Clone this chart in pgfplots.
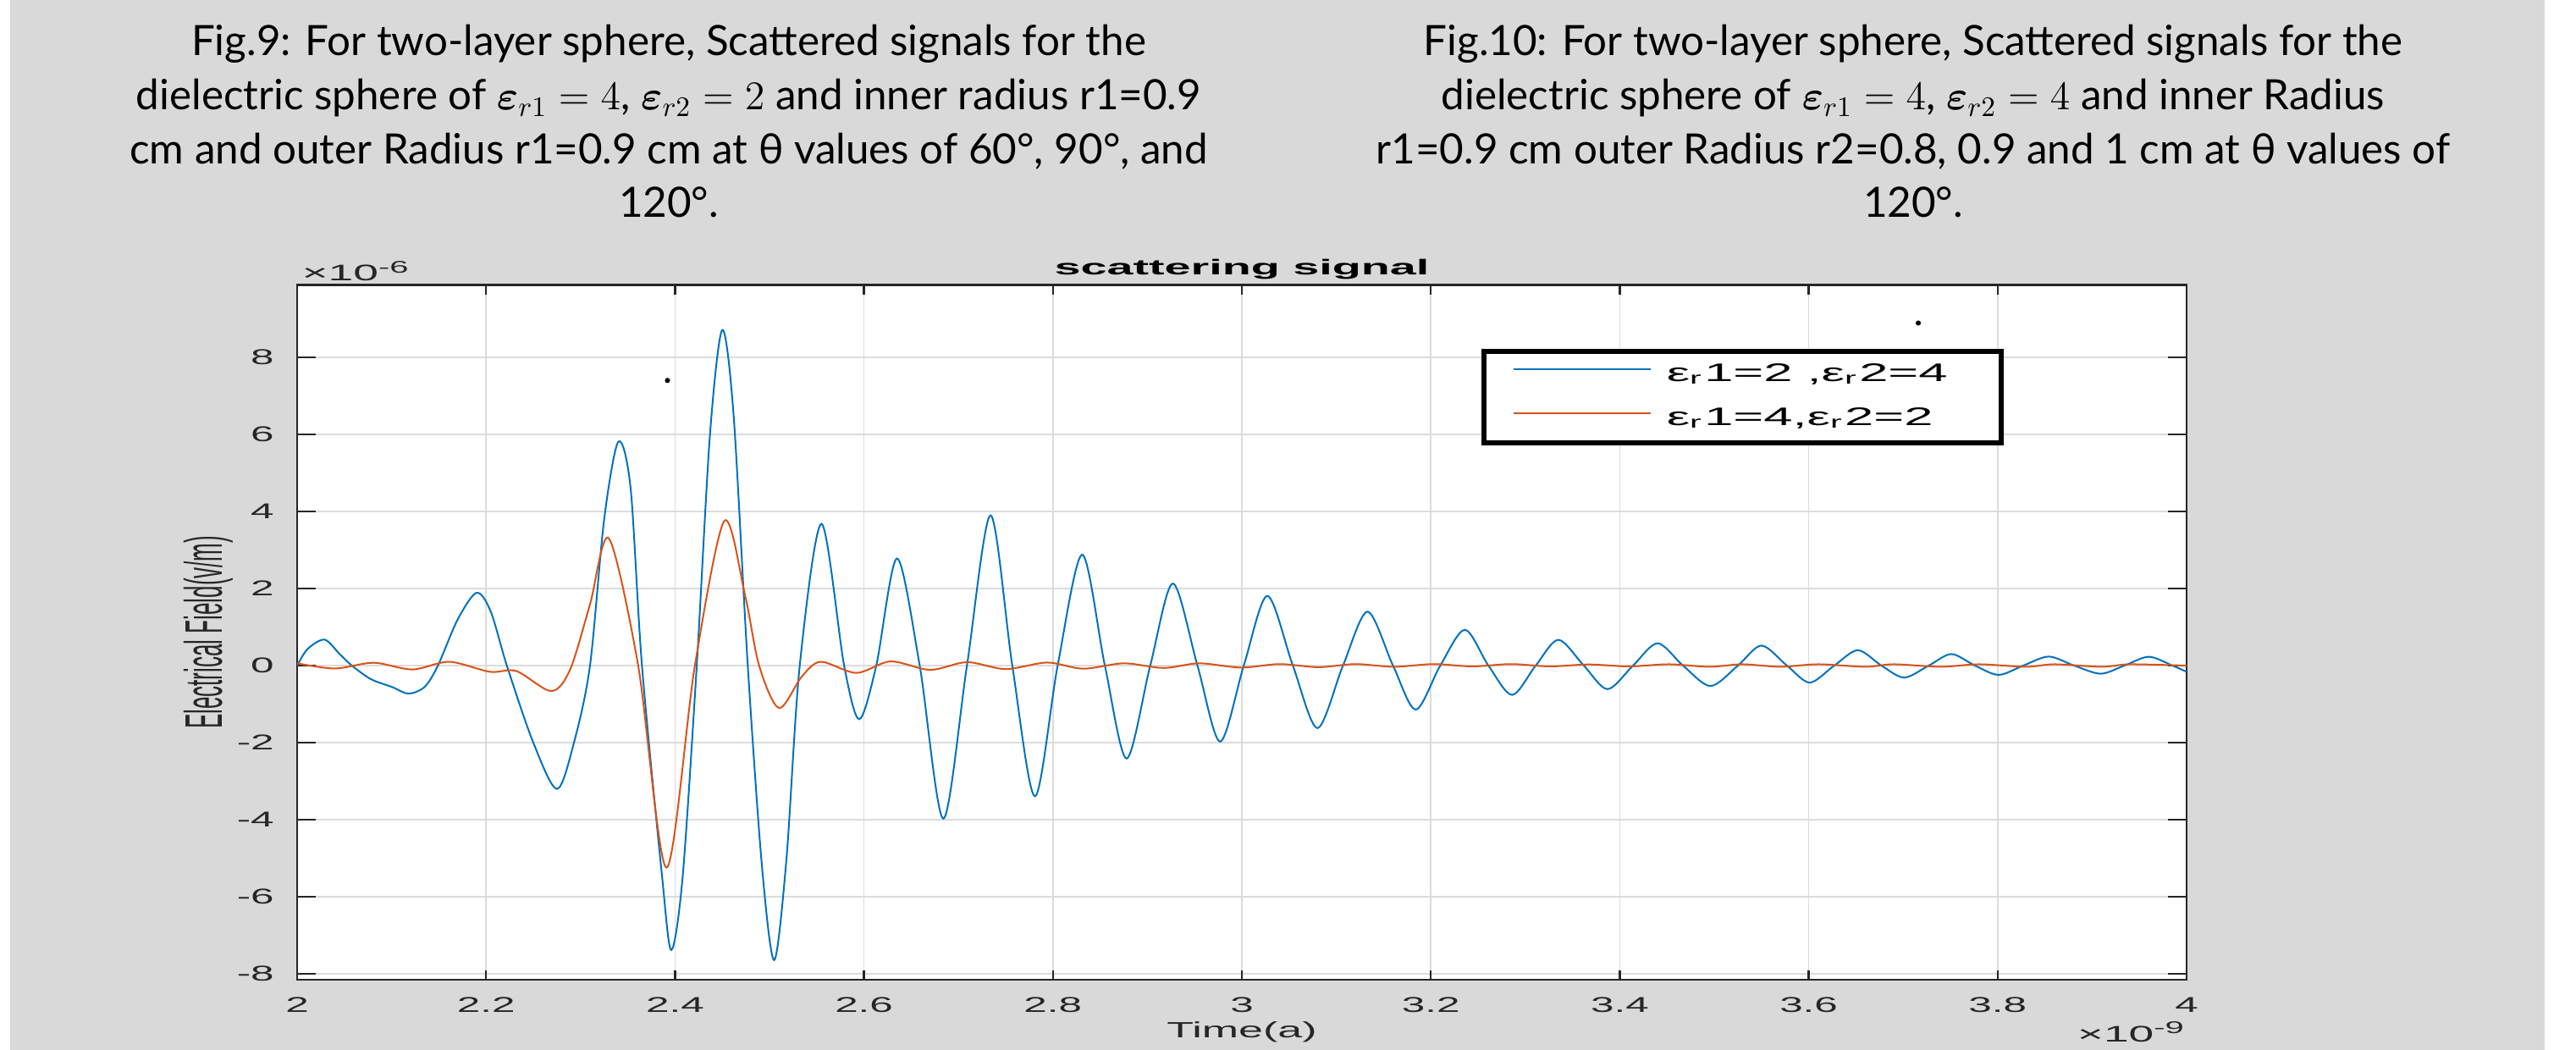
\documentclass[border=0pt]{standalone}
\usepackage{amsmath}
\usepackage{bm}
\usepackage{graphicx}
\usepackage{fontspec}
\setmainfont{Liberation Sans}
\newfontfamily\capfont{Lato}
\usepackage{pgfplots}
\pgfplotsset{compat=1.18}

\definecolor{figbg}{RGB}{217,217,217}
\definecolor{axcol}{RGB}{38,38,38}
\definecolor{gridcol}{RGB}{220,220,220}
\definecolor{mblue}{RGB}{0,114,189}
\definecolor{mred}{RGB}{217,83,25}

\newcommand\capsize{\capfont\fontsize{14.8}{17}\selectfont}
\newcommand\ticksize{\fontsize{7.6}{8}\selectfont}

\begin{document}
\begin{tikzpicture}
\fill[white] (0,0) rectangle (912.9pt,372pt);
\fill[figbg] (3.6pt,0) rectangle (901.8pt,372pt);

% captions above the figure
\node[anchor=base,inner sep=0pt,font=\capsize] at (237pt,352.2pt) {Fig.9: For two-layer sphere, Scattered signals for the};
\node[anchor=base,inner sep=0pt,font=\capsize] at (237pt,333.0pt) {dielectric sphere of $\bm{\varepsilon}_{r1} = 4$, $\bm{\varepsilon}_{r2} = 2$ and inner radius r1=0.9};
\node[anchor=base,inner sep=0pt,font=\capsize] at (237pt,313.8pt) {cm and outer Radius r1=0.9 cm at θ values of 60°, 90°, and};
\node[anchor=base,inner sep=0pt,font=\capsize] at (237pt,294.9pt) {120°.};
\node[anchor=base,inner sep=0pt,font=\capsize] at (678pt,352.2pt) {Fig.10: For two-layer sphere, Scattered signals for the};
\node[anchor=base,inner sep=0pt,font=\capsize] at (678pt,333.0pt) {dielectric sphere of $\bm{\varepsilon}_{r1} = 4$, $\bm{\varepsilon}_{r2} = 4$ and inner Radius};
\node[anchor=base,inner sep=0pt,font=\capsize] at (678pt,313.8pt) {r1=0.9 cm outer Radius r2=0.8, 0.9 and 1 cm at θ values of};
\node[anchor=base,inner sep=0pt,font=\capsize] at (678pt,294.9pt) {120°.};

\begin{axis}[
  at={(105.3pt,24.9pt)}, anchor=south west,
  scale only axis, width=669.6pt, height=246.1pt,
  xmin=2, xmax=4, ymin=-8.15, ymax=9.875,
  clip mode=individual,
  axis background/.style={fill=white},
  xtick={2,2.2,2.4,2.6,2.8,3,3.2,3.4,3.6,3.8,4},
  xticklabels={2,2.2,2.4,2.6,2.8,3,3.2,3.4,3.6,3.8,4},
  ytick={-8,-6,-4,-2,0,2,4,6,8},
  yticklabels={-8,-6,-4,-2,0,2,4,6,8},
  tick align=inside, tick pos=both,
  major tick length=6.6pt,
  xtick style={/pgfplots/major tick length=3.3pt},
  tick style={axcol, line width=0.7pt},
  axis line style={axcol, line width=0.7pt},
  xmajorgrids, ymajorgrids,
  grid style={gridcol, line width=0.45pt},
  xticklabel style={font=\ticksize, text=axcol, inner sep=0pt, anchor=north, yshift=-6pt, xscale=1.95},
  yticklabel style={font=\ticksize, text=axcol, inner sep=0pt, anchor=east, xshift=-7.8pt, xscale=1.95},
  xlabel={\scalebox{2.0}[1]{Time(a)}},
  xlabel style={at={(axis description cs:0.5,-0.0829)}, anchor=base, inner sep=0pt, font=\fontsize{7.8}{9}\selectfont, text=axcol},
  legend style={at={(0.627,0.908)}, anchor=north west, draw=black, line width=1.8pt, fill=white,
    inner xsep=10pt, inner ysep=4.3pt, row sep=7.6pt, column sep=5.4pt,
    nodes={inner sep=0pt, text height=6.2pt, text depth=1.9pt},
    font=\fontsize{9}{10}\selectfont},
  legend cell align=left,
  legend image code/.code={\draw[#1, line width=0.6pt] (0pt,2.2pt) -- (48.6pt,2.2pt);},
]
\addplot[mblue, line width=0.6pt, smooth] coordinates {
(2.000,0.00) (2.011,0.43) (2.029,0.675) (2.045,0.30) (2.058,0.00) (2.078,-0.35)
(2.100,-0.55) (2.118,-0.725) (2.135,-0.55) (2.149,0.00) (2.170,1.20) (2.190,1.89)
(2.205,1.40) (2.222,0.00) (2.250,-2.00) (2.275,-3.20) (2.293,-2.00) (2.310,0.00)
(2.325,3.80) (2.340,5.81) (2.353,4.60) (2.365,0.00) (2.386,-5.40) (2.396,-7.38)
(2.408,-5.50) (2.423,0.00) (2.437,6.00) (2.450,8.71) (2.462,6.50) (2.477,0.00)
(2.492,-5.20) (2.505,-7.64) (2.518,-5.00) (2.532,0.00) (2.555,3.68) (2.579,0.00)
(2.595,-1.39) (2.613,0.00) (2.635,2.78) (2.659,0.00) (2.684,-3.97) (2.709,0.00)
(2.734,3.90) (2.757,0.00) (2.781,-3.39) (2.805,0.00) (2.831,2.88) (2.855,0.00)
(2.878,-2.41) (2.903,0.00) (2.927,2.13) (2.953,0.00) (2.977,-1.97) (3.002,0.00)
(3.027,1.81) (3.054,0.00) (3.080,-1.62) (3.107,0.00) (3.133,1.40) (3.160,0.00)
(3.184,-1.14) (3.210,0.00) (3.236,0.93) (3.261,0.00) (3.286,-0.76) (3.311,0.00)
(3.335,0.67) (3.362,0.00) (3.387,-0.61) (3.414,0.00) (3.440,0.58) (3.467,0.00)
(3.496,-0.53) (3.525,0.00) (3.550,0.52) (3.577,0.00) (3.601,-0.44) (3.627,0.00)
(3.652,0.40) (3.677,0.00) (3.701,-0.31) (3.727,0.00) (3.751,0.30) (3.776,0.00)
(3.801,-0.24) (3.827,0.00) (3.854,0.235) (3.881,0.00) (3.909,-0.21) (3.934,0.00)
(3.960,0.23) (3.985,0.00) (4.000,-0.16)
};
\addlegendentry{\scalebox{2.05}[1]{ε\textsubscript{r}1=2 ,ε\textsubscript{r}2=4}\hspace*{9pt}}
\addplot[mred, line width=0.6pt, smooth] coordinates {
(2.000,0.06) (2.040,-0.075) (2.081,0.075) (2.122,-0.10) (2.161,0.10) (2.204,-0.16)
(2.232,-0.14) (2.269,-0.66) (2.289,-0.10) (2.310,1.59) (2.330,3.30) (2.361,0.00)
(2.391,-5.24) (2.421,0.00) (2.452,3.75) (2.474,1.84) (2.489,0.00) (2.510,-1.10)
(2.534,-0.29) (2.554,0.10) (2.592,-0.19) (2.628,0.11) (2.670,-0.11) (2.709,0.09)
(2.750,-0.09) (2.794,0.08) (2.832,-0.08) (2.875,0.06) (2.917,-0.06) (2.955,0.06)
(2.999,-0.05) (3.040,0.04) (3.081,-0.04) (3.120,0.04) (3.161,-0.03) (3.203,0.04)
(3.244,-0.02) (3.285,0.04) (3.326,-0.02) (3.367,0.03) (3.410,-0.02) (3.452,0.035)
(3.495,-0.03) (3.530,0.035) (3.570,-0.03) (3.610,0.035) (3.660,-0.03) (3.690,0.035)
(3.740,-0.03) (3.780,0.035) (3.830,-0.03) (3.860,0.035) (3.910,-0.03) (3.940,0.035)
(4.000,0.00)
};
\addlegendentry{\scalebox{2.05}[1]{ε\textsubscript{r}1=4,ε\textsubscript{r}2=2}}
\addplot[only marks, mark=*, mark size=0.7pt, black, forget plot] coordinates {(2.392,7.40) (3.716,8.89)};
\node[anchor=base, inner sep=0pt, font=\fontsize{7.6}{9}\selectfont] at (rel axis cs:0.5,1.0143) {\scalebox{2.2}[1]{\bfseries scattering signal}};
\node[anchor=center, inner sep=0pt, font=\fontsize{7.8}{9}\selectfont, text=axcol] at (rel axis cs:-0.047,0.5) {\rotatebox{90}{\scalebox{1}[2.4]{Electrical Field(v/m)}}};
\node[anchor=base west, inner sep=0pt, font=\fontsize{8}{9}\selectfont, text=axcol] at (rel axis cs:0.0022,1.0057) {\scalebox{2.0}[1]{×10\textsuperscript{-6}}};
\node[anchor=base east, inner sep=0pt, font=\fontsize{8}{9}\selectfont, text=axcol] at (rel axis cs:1.0004,-0.089) {\scalebox{2.0}[1]{×10\textsuperscript{-9}}};
\end{axis}
\pgfresetboundingbox
\path[use as bounding box] (0,0) rectangle (912.9pt,372pt);
\end{tikzpicture}
\end{document}
